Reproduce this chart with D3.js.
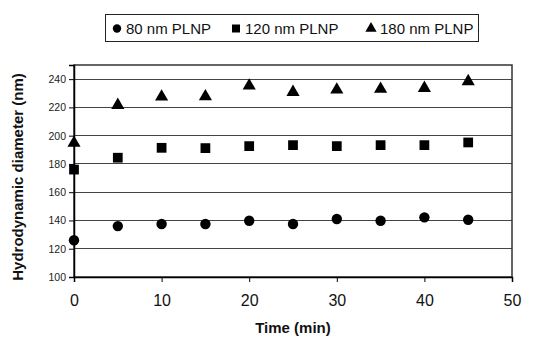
<!DOCTYPE html>
<html><head><meta charset="utf-8">
<script src="https://cdn.jsdelivr.net/npm/d3@7"></script>
<style>body{margin:0;background:#fff}svg{display:block;font-family:"Liberation Sans",Arial,sans-serif}</style>
</head><body><svg id="c" width="537" height="338"></svg>
<script>
const times = [0,5,10,15,20,25,30,35,40,45];
const nm80 = [126,136,137.5,137.5,139.8,137.5,141,139.8,142.2,140.5];
const nm120 = [176,184.4,191.4,191.2,192.6,193.3,192.6,193.3,193.3,195.2];
const nm180 = [194.8,221.6,227.5,227.7,235.3,230.8,232.5,233,233.6,238.4];
const seriesNames = ["80 nm PLNP","120 nm PLNP","180 nm PLNP"];
const xTicks = [0,10,20,30,40,50];
const yTicks = [100,120,140,160,180,200,220,240];

const svg = d3.select("#c");
const x = d3.scaleLinear().domain([0,50]).range([74,512]);
const y = d3.scaleLinear().domain([100,250]).range([277,65]);

// gridlines
svg.append("g").selectAll("line").data(yTicks.filter(v=>v>100)).join("line")
  .attr("x1",x(0)).attr("x2",x(50)).attr("y1",d=>y(d)).attr("y2",d=>y(d))
  .attr("stroke","#444").attr("stroke-width",1).attr("shape-rendering","crispEdges");
// plot border
svg.append("rect").attr("x",x(0)).attr("y",y(250)).attr("width",x(50)-x(0)).attr("height",y(100)-y(250))
  .attr("fill","none").attr("stroke","#333").attr("stroke-width",1.5);

// axes
const ya = svg.append("g").attr("transform",`translate(${x(0)},0)`)
  .call(d3.axisLeft(y).tickValues(yTicks).tickSize(5).tickPadding(3));
ya.select(".domain").attr("stroke","#000").attr("stroke-width",1.5);
ya.selectAll("text").attr("font-size","10.5px").attr("fill","#222").attr("font-family","Liberation Sans, Arial");
const xa = svg.append("g").attr("transform",`translate(0,${y(100)})`)
  .call(d3.axisBottom(x).tickValues(xTicks).tickSize(5).tickPadding(13));
xa.select(".domain").attr("stroke","#000").attr("stroke-width",1.5);
xa.selectAll("text").attr("font-size","16px").attr("fill","#111").attr("font-family","Liberation Sans, Arial");

// axis titles
svg.append("text").attr("x",(x(0)+x(50))/2).attr("y",333).attr("text-anchor","middle")
  .attr("font-weight","bold").attr("font-size","15px").attr("fill","#111").text("Time (min)");
svg.append("text").attr("transform","translate(23,177) rotate(-90)").attr("text-anchor","middle")
  .attr("font-weight","bold").attr("font-size","15px").attr("fill","#111").text("Hydrodynamic diameter (nm)");

// markers
const sym = [d3.symbolCircle, d3.symbolSquare, d3.symbolTriangle];
const sizes = [85, 95, 75];
const data = [nm80, nm120, nm180];
data.forEach((vals,i)=>{
  svg.append("g").selectAll("path").data(vals).join("path")
    .attr("transform",(d,j)=>`translate(${x(times[j])},${y(d)})`)
    .attr("d",d3.symbol().type(sym[i]).size(sizes[i])).attr("fill","#000");
});

// legend
const lg = svg.append("g");
lg.append("rect").attr("x",105.5).attr("y",14.5).attr("width",373).attr("height",27)
  .attr("fill","#fff").attr("stroke","#222").attr("stroke-width",1);
const lx = [117,236,371];
const lsizes = [55, 64, 55];
seriesNames.forEach((n,i)=>{
  lg.append("path").attr("transform",`translate(${lx[i]},28.5)`)
    .attr("d",d3.symbol().type(sym[i]).size(lsizes[i])).attr("fill","#000");
  lg.append("text").attr("x",lx[i]+9).attr("y",34).attr("font-size","15px").attr("fill","#111").text(n);
});
</script></body></html>
